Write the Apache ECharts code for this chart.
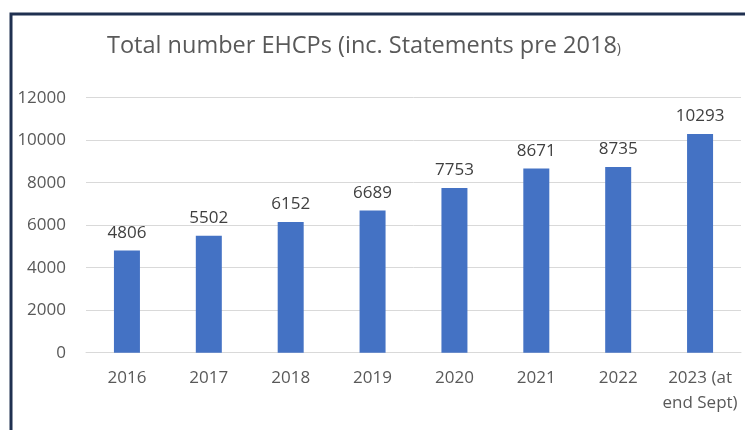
<!DOCTYPE html>
<html>
<head>
<meta charset="utf-8">
<script src="https://cdn.jsdelivr.net/npm/echarts@6/dist/echarts.min.js"></script>
<style>
  html, body { margin: 0; padding: 0; background: #fff; }
  #chart { width: 745px; height: 430px; }
</style>
</head>
<body>
<div id="chart"></div>
<script>
const categories = ['2016', '2017', '2018', '2019', '2020', '2021', '2022', '2023 (at\nend Sept)']
const ehcpTotals = [4806, 5502, 6152, 6689, 7753, 8671, 8735, 10293]
const yTicks = { min: 0, max: 12000, interval: 2000 }

const FONT = '"Open Sans", sans-serif'
const chart = echarts.init(document.getElementById('chart'))

chart.setOption({
  backgroundColor: '#fff',
  animation: false,
  title: {
    text: 'Total number EHCPs (inc. Statements pre 2018{s|)}',
    left: 102,
    top: 29,
    textStyle: {
      color: '#595959',
      fontFamily: FONT,
      fontSize: 23.5,
      fontWeight: 'normal',
      rich: {
        s: { color: '#595959', fontFamily: FONT, fontSize: 14, padding: [7, 0, 0, 0] },
      },
    },
  },
  graphic: [
    {
      type: 'polyline',
      shape: { points: [[11, 430], [11, 14], [745, 14]] },
      style: { stroke: '#1f3050', lineWidth: 3, fill: null },
    },
  ],
  grid: { left: 86, right: 4, top: 97.7, bottom: 77.3 },
  xAxis: {
    type: 'category',
    data: categories,
    axisLine: { show: true, lineStyle: { color: '#d9d9d9', width: 1 } },
    axisTick: { show: false },
    axisLabel: {
      color: '#595959',
      fontFamily: FONT,
      fontSize: 17,
      lineHeight: 25,
      margin: 13,
      interval: 0,
    },
  },
  yAxis: {
    type: 'value',
    min: yTicks.min,
    max: yTicks.max,
    interval: yTicks.interval,
    axisLine: { show: false },
    axisTick: { show: false },
    splitLine: { lineStyle: { color: '#d9d9d9', width: 1 } },
    axisLabel: {
      color: '#595959',
      fontFamily: FONT,
      fontSize: 17,
      margin: 20,
      formatter: (v) => String(v),
    },
  },
  series: [
    {
      type: 'bar',
      data: ehcpTotals,
      barWidth: 26,
      itemStyle: { color: '#4472c4' },
      label: {
        show: true,
        position: 'top',
        distance: 9,
        color: '#404040',
        fontFamily: FONT,
        fontSize: 17,
      },
    },
  ],
})
</script>
</body>
</html>
